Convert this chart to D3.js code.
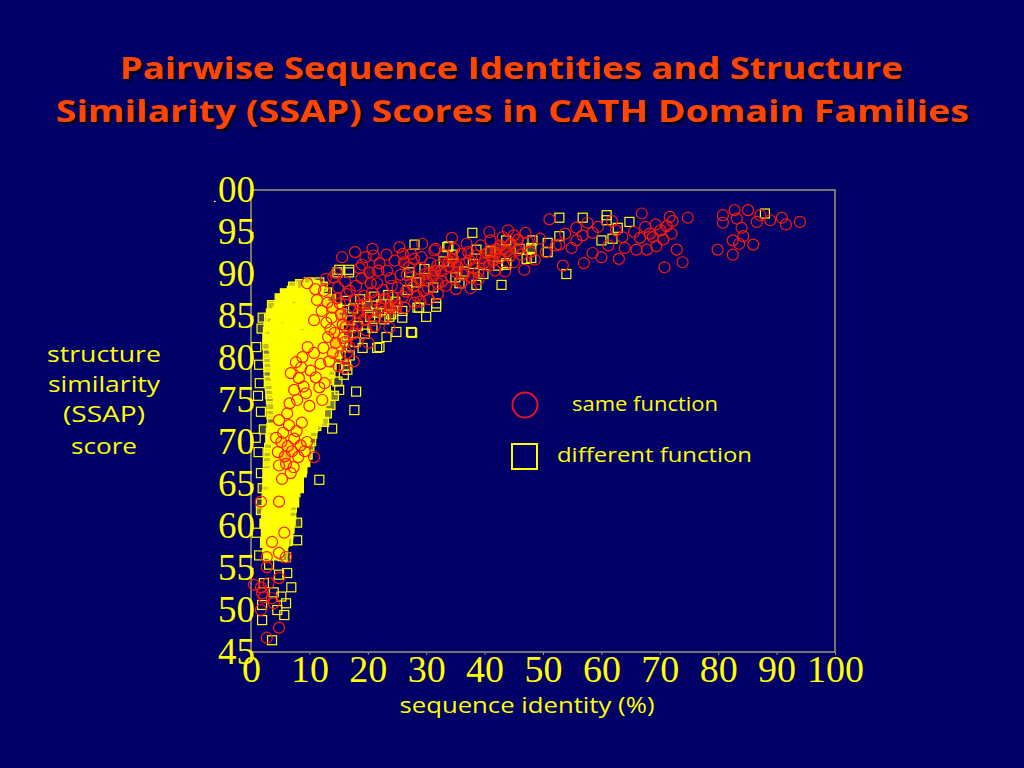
<!DOCTYPE html>
<html>
<head>
<meta charset="utf-8">
<script src="https://cdn.jsdelivr.net/npm/d3@7/dist/d3.min.js"></script>
<style>
  html, body { margin: 0; padding: 0; background: #000066; }
  svg { display: block; }
</style>
</head>
<body>
<svg id="chart" width="1024" height="768"></svg>
<script>
// ---------- DATA ----------
const titleLines = ["Pairwise Sequence Identities and Structure", "Similarity (SSAP) Scores in CATH Domain Families"];
const yLabelLines = ["structure", "similarity", "(SSAP)", "score"];
const xLabel = "sequence identity (%)";
const legendLabels = ["same function", "different function"];
const xTicks = [0, 10, 20, 30, 40, 50, 60, 70, 80, 90, 100];
const yTicks = [45, 50, 55, 60, 65, 70, 75, 80, 85, 90, 95, 100];

// different function (squares): dense core, x = sequence identity %, y = SSAP score
const diffCore = [
  [7.2,88.5],[8.4,88.8],[9.6,88.4],[10.9,88.7],[12.3,88.5],
  [5.8,87.7],[7.0,88.0],[8.1,87.6],[9.3,87.9],[10.4,87.7],[11.6,88.0],[13.0,87.8],
  [4.9,87.1],[6.1,86.9],[7.4,87.2],[8.6,86.9],[9.9,87.1],[11.2,86.8],[12.4,87.1],[13.7,87.0],
  [3.6,86.3],[4.8,86.1],[6.0,86.3],[7.2,86.0],[8.5,86.3],[9.7,86.1],[11.0,86.4],[12.2,86.1],[13.5,86.2],[14.8,86.0],
  [3.4,85.3],[4.5,85.5],[5.7,85.2],[6.9,85.5],[8.1,85.3],[9.4,85.6],[10.6,85.3],[11.8,85.5],[13.1,85.2],[14.3,85.4],[15.6,85.3],
  [3.1,84.7],[4.3,84.5],[5.5,84.8],[6.6,84.5],[7.8,84.7],[9.0,84.4],[10.3,84.6],[11.5,84.8],[12.8,84.5],[14.0,84.7],[15.3,84.5],
  [3.0,83.7],[4.1,83.9],[5.3,83.6],[6.5,83.9],[7.6,83.7],[8.8,84.0],[10.0,83.7],[11.3,83.9],[12.5,83.6],[13.8,83.8],[15.0,83.7],
  [2.9,83.1],[4.0,82.9],[5.2,83.2],[6.3,82.9],[7.5,83.1],[8.7,82.8],[9.9,83.0],[11.1,83.2],[12.4,82.9],[13.6,83.1],[14.9,82.9],
  [2.8,82.3],[3.9,82.1],[5.0,82.3],[6.2,82.0],[7.4,82.2],[8.6,82.4],[9.8,82.1],[11.0,82.3],[12.2,82.0],[13.5,82.2],[14.7,82.4],[15.8,82.1],
  [2.8,81.5],[3.9,81.3],[5.1,81.5],[6.3,81.2],[7.5,81.4],[8.7,81.6],[9.9,81.3],[11.1,81.5],[12.3,81.2],[13.4,81.4],[14.6,81.6],[15.6,81.3],
  [2.9,80.5],[4.0,80.7],[5.2,80.4],[6.4,80.7],[7.6,80.5],[8.8,80.8],[10.0,80.5],[11.2,80.7],[12.4,80.4],[13.6,80.6],[14.8,80.5],
  [2.9,79.9],[4.1,79.7],[5.3,79.9],[6.5,79.6],[7.7,79.8],[8.9,80.0],[10.1,79.7],[11.3,79.9],[12.5,79.6],[13.7,79.8],[14.6,79.9],
  [3.0,78.9],[4.2,79.1],[5.4,78.8],[6.6,79.1],[7.8,78.9],[9.0,79.2],[10.2,78.9],[11.4,79.1],[12.6,78.8],[13.8,79.0],
  [3.0,78.3],[4.1,78.1],[5.3,78.3],[6.5,78.0],[7.7,78.2],[8.9,78.4],[10.1,78.1],[11.3,78.3],[12.5,78.0],[13.6,78.2],
  [3.1,77.3],[4.3,77.5],[5.5,77.2],[6.7,77.5],[7.9,77.3],[9.1,77.6],[10.3,77.3],[11.5,77.5],[12.7,77.2],[13.4,77.4],
  [3.2,76.7],[4.4,76.5],[5.6,76.7],[6.8,76.4],[8.0,76.6],[9.2,76.8],[10.4,76.5],[11.6,76.7],[12.8,76.4],
  [3.3,75.7],[4.5,75.9],[5.7,75.6],[6.9,75.9],[8.1,75.7],[9.3,76.0],[10.5,75.7],[11.7,75.9],[12.9,75.6],
  [3.4,75.1],[4.6,74.9],[5.8,75.2],[7.0,74.9],[8.2,75.1],[9.4,74.8],[10.6,75.0],[11.8,75.2],[12.7,74.9],
  [3.5,74.3],[4.7,74.1],[5.9,74.3],[7.1,74.0],[8.3,74.2],[9.5,74.4],[10.7,74.1],[11.9,74.3],
  [3.5,73.3],[4.7,73.5],[5.9,73.2],[7.1,73.5],[8.3,73.3],[9.5,73.6],[10.7,73.3],[11.8,73.5],
  [3.6,72.7],[4.8,72.5],[6.0,72.7],[7.2,72.4],[8.4,72.6],[9.6,72.8],[10.8,72.5],[11.5,72.7],
  [3.5,71.7],[4.7,71.9],[5.9,71.6],[7.1,71.9],[8.3,71.7],[9.5,72.0],[10.6,71.7],[11.2,71.9],
  [3.4,71.1],[4.6,70.9],[5.8,71.2],[7.0,70.9],[8.2,71.1],[9.4,70.8],[10.5,71.0],
  [3.3,70.3],[4.5,70.1],[5.7,70.3],[6.9,70.0],[8.1,70.2],[9.3,70.4],[10.3,70.1],
  [3.1,69.3],[4.3,69.5],[5.5,69.2],[6.7,69.5],[7.9,69.3],[9.1,69.6],[10.0,69.3],
  [3.0,68.7],[4.2,68.5],[5.4,68.7],[6.6,68.4],[7.8,68.6],[9.0,68.8],[9.7,68.5],
  [2.9,67.7],[4.1,67.9],[5.3,67.6],[6.5,67.9],[7.7,67.7],[8.9,68.0],[9.3,67.6],
  [2.9,67.1],[4.1,66.9],[5.3,67.2],[6.5,66.9],[7.6,67.1],[8.8,66.8],
  [2.8,66.3],[4.0,66.1],[5.2,66.3],[6.4,66.0],[7.5,66.2],[8.5,66.4],
  [2.8,65.3],[4.0,65.5],[5.2,65.2],[6.3,65.5],[7.4,65.3],[8.2,65.6],
  [2.8,64.7],[3.9,64.5],[5.1,64.7],[6.2,64.4],[7.2,64.6],[7.9,64.8],
  [2.7,63.7],[3.9,63.9],[5.0,63.6],[6.1,63.9],[7.1,63.7],[7.6,64.0],
  [2.7,63.1],[3.8,62.9],[4.9,63.2],[6.0,62.9],[7.0,63.1],[7.4,62.8],
  [2.7,62.3],[3.8,62.1],[4.9,62.3],[6.0,62.0],[7.0,62.2],
  [2.6,61.3],[3.7,61.5],[4.8,61.2],[5.9,61.5],[6.9,61.3],
  [2.6,60.7],[3.7,60.5],[4.8,60.7],[5.9,60.4],[6.8,60.6],
  [2.6,59.7],[3.7,59.9],[4.7,59.6],[5.8,59.9],[6.6,59.7],
  [2.7,59.1],[3.7,58.9],[4.7,59.2],[5.7,58.9],[6.4,59.1],
  [2.7,58.3],[3.7,58.1],[4.6,58.3],[5.6,58.0],[6.2,58.2],
  [2.8,57.3],[3.8,57.5],[4.7,57.2],[5.5,57.5],
  [2.9,56.7],[3.9,56.5],[4.8,56.7],[5.4,56.4]
];

// different function (squares): band along the upper curve
const diffBand = [
  [16.2,86.8],[17.5,85.9],[18.7,87.0],[19.9,86.2],[21.1,87.3],[22.3,86.4],[23.5,87.5],[24.7,86.7],[25.9,85.6],
  [20.4,84.9],[21.6,85.4],[22.8,84.6],[24.0,85.2],[17.0,84.5],[18.3,83.8],[19.5,82.9],[20.8,83.6],
  [16.6,82.7],[17.9,81.9],[19.1,81.2],[16.9,80.3],[16.3,79.1],[15.9,78.0],[14.8,77.2],[15.1,76.2],
  [14.2,75.5],[13.6,74.4],[13.0,73.4],[12.5,72.4],[13.9,71.6],
  [22.0,81.3],[23.2,82.5],[23.7,84.9],[25.9,84.8],[24.9,83.1],[27.6,83.0],[28.8,86.0],[30.0,84.9],[31.7,86.1],
  [26.8,88.1],[28.3,89.0],[27.1,90.2],[29.7,90.6],[31.2,88.4],[33.6,93.2],[28.0,93.5],[14.8,90.2],[16.8,90.2],
  [33.0,91.5],[35.0,89.6],[36.5,90.3],[38.0,91.2],[39.8,90.0],[41.0,92.7],[42.3,91.0],[38.6,92.9],
  [35.7,88.9],[38.6,88.7],[42.9,88.7],[43.7,91.3],[37.9,94.9],[33.8,93.3],[34.5,92.3],[46.0,93.0],[47.2,91.8]
];

// different function (squares): scattered outliers
const diffSparse = [
  [0.9,81.3],[1.4,79.2],[1.7,73.6],[1.5,77.0],[1.2,75.5],[0.8,70.5],[1.3,68.8],[1.7,66.3],[1.7,62.7],[1.7,61.9],
  [1.0,59.2],[1.4,56.5],[3.1,55.4],[6.0,56.3],[7.9,58.3],[7.9,60.4],[8.2,64.5],[8.7,66.4],[11.7,65.5],
  [4.8,54.2],[6.2,54.4],[6.9,52.7],[6.0,50.8],[4.5,50.0],[1.9,50.6],[5.7,49.4],[1.9,48.8],[3.6,46.4],
  [2.2,53.2],[3.9,52.1],[5.2,51.6],[3.6,86.1],[6.0,86.3],[8.2,87.3],[9.9,89.0],[11.7,89.0],[15.1,90.5],
  [16.8,90.5],[18.0,76.0],[17.7,73.8],[16.5,78.6],[28.5,86.0],[21.6,81.2],[27.4,83.1],[1.8,83.5],[2.0,84.8],
  [2.2,71.5],[2.0,64.5],[2.3,60.3],[2.4,58.0],
  [52.8,96.7],[56.8,96.7],[60.9,97.0],[60.9,96.4],[64.8,96.2],[62.8,95.5],[60.0,94.0],[61.9,94.2],
  [52.8,94.5],[48.2,94.0],[48.0,93.1],[48.0,91.9],[50.8,93.7],[50.8,92.6],[43.7,94.0],[43.7,91.1],
  [54.0,90.0],[88.0,97.2],[31.7,86.5]
];

// same function (circles)
const sameCore = [
  [4.8,72.6],[6.5,72.0],[8.7,72.3],[5.2,70.0],[6.3,69.5],[7.4,70.4],[8.5,69.6],[4.6,68.8],[5.8,68.3],
  [7.0,68.9],[8.1,68.2],[9.2,68.9],[6.0,67.4],[7.3,67.0],[4.8,67.2],[10.8,68.2],[5.5,71.1],[7.8,71.3],
  [4.3,70.5],[9.6,70.0],[6.8,66.3],[5.3,65.6],
  [4.8,62.9],[1.7,62.9],[5.7,59.2],[3.6,58.1],[2.7,56.3],[2.7,55.1],[4.8,56.8],[6.0,56.3],[4.8,53.8],
  [1.7,52.7],[0.5,53.0],[1.9,52.0],[3.6,51.4],[3.9,50.8],[4.8,47.9],[2.7,46.7],[1.7,50.0],[3.0,53.2],[2.2,51.5],
  [7.7,79.5],[10.8,80.6],[8.2,77.6],[11.1,77.7],[9.4,75.8],[11.7,76.5],[6.6,74.6],[7.9,75.0],[9.0,76.6],
  [10.2,78.5],[8.6,78.9],[10.0,74.3],[7.4,76.2],[12.6,77.0],[6.8,78.2],[11.9,79.3],[9.7,81.3],[8.8,80.1],
  [6.2,73.4],[12.2,75.0]
];

const sameBand = [
  [10.8,84.5],[12.9,84.2],[9.6,88.9],[14.6,90.1],[13.2,82.5],[14.5,81.8],[15.8,82.4],[16.9,81.3],[14.0,80.6],
  [15.3,80.2],[17.5,82.9],[13.6,83.4],[16.2,83.7],[18.3,84.1],[12.1,85.6],[13.9,86.0],[15.4,85.2],[17.1,85.6],
  [18.8,86.3],[11.3,86.9],[14.7,87.1],[16.4,87.6],[20.0,85.3],[19.3,87.4],[21.4,86.9],[22.6,88.1],[20.5,88.9],
  [18.0,88.6],[16.1,89.1],[23.2,92.3],[19.0,91.1],[25.4,93.2],[21.8,90.4],[23.9,89.5],[25.1,88.4],[26.7,89.9],
  [24.3,87.2],[22.1,86.0],[27.8,88.5],[28.9,90.6],[26.2,91.4],[30.1,89.2],[31.5,90.4],[29.6,88.0],[32.7,89.1],
  [33.9,90.9],[35.2,90.2],[34.6,91.8],[36.8,91.2],[38.1,90.7],[37.2,92.6],[39.5,91.9],[40.8,91.0],[41.9,92.5],
  [42.7,93.4],[40.8,95.0],[44.3,92.1],[45.6,92.8],[46.8,90.5],[47.4,93.8],[45.0,94.6],[43.5,90.3],[39.0,89.4],
  [36.0,89.0],[32.0,87.6],[30.5,87.0],[28.0,86.6],[26.0,87.3],[19.7,83.3],[21.0,84.5],[23.0,84.9],[24.8,85.9],
  [17.6,79.6],[16.0,78.8],[12.5,88.0],[11.0,88.2],[15.6,92.0],[17.8,92.6],[20.8,93.0],[29.3,93.6],[31.4,92.8],
  [27.4,92.4],[34.4,94.3],
  [12.4,81.2],[13.1,86.6],[13.8,84.8],[14.3,83.0],[14.9,88.4],[15.2,86.5],[15.7,84.0],[16.1,81.9],[16.6,85.0],
  [16.9,88.0],[17.3,83.6],[17.7,86.9],[18.1,81.9],[18.4,85.4],[12.8,89.4],[14.1,89.6],[13.4,79.6],[15.0,79.0],[16.4,80.6],
  [18.9,89.5],[19.4,84.6],[19.8,86.6],[20.3,90.2],[20.7,87.8],[21.2,83.8],[21.6,88.9],[22.0,91.3],[22.4,85.5],
  [22.9,87.1],[23.3,90.4],[23.7,83.6],[24.1,88.6],[24.6,91.6],[25.0,86.3],[19.6,92.0],[21.0,92.2],[18.6,90.7],
  [23.8,86.0],[20.1,81.8],
  [25.6,89.9],[26.0,92.4],[26.5,87.9],[27.0,90.8],[27.4,88.9],[27.9,91.8],[28.4,87.4],[28.8,89.4],[29.2,92.0],
  [29.8,90.0],[30.3,88.3],[30.7,91.3],[31.1,89.8],[31.6,93.0],[32.0,88.9],[26.3,86.0],[29.0,86.7],[31.9,91.0],
  [32.5,90.4],[33.0,92.3],[33.4,88.6],[33.9,91.5],[34.3,89.6],[34.8,93.0],[35.4,90.9],[35.9,92.4],[36.3,89.9],
  [36.9,93.6],[37.4,91.6],[37.8,89.6],[38.4,92.2],[38.9,90.2],[39.3,93.4],[39.9,91.3],[35.1,88.2],[37.6,88.3],
  [40.4,92.5],[41.0,94.0],[41.5,91.6],[42.1,93.0],[42.6,91.9],[43.1,94.4],[43.8,92.7],[44.5,93.6],[45.0,91.4],
  [45.7,94.1],[46.3,92.3],[47.0,94.9],[47.8,92.6],[44.0,95.2],[41.8,90.4],
  [51.1,96.5],[49.5,94.2],[50.5,92.6],[52.2,93.4],[53.8,94.8],[52.8,93.5],[55.7,95.5],[55.7,94.0],[54.9,93.1],
  [56.8,94.6],[57.6,96.1],[58.5,94.9],[58.5,92.5],[60.0,92.0],[59.4,95.6],[61.2,93.4],[62.5,95.2],[63.6,94.4],
  [64.0,93.1],[66.0,92.9],[67.8,92.9],[66.9,97.2],[65.6,95.0],[66.6,94.3],[67.5,95.6],[68.3,94.8],[68.8,94.4],
  [69.3,95.9],[70.1,95.2],[70.6,94.1],[71.2,95.7],[72.0,94.8],[72.2,96.3],[71.7,96.8],[74.8,96.7],[72.9,92.9],
  [73.9,91.4],[70.8,90.8],[69.4,93.3],[61.8,96.3],[63.0,91.8],[57.0,91.3],[48.6,91.7],[53.4,91.0]
];

const sameRight = [
  [80.8,97.0],[80.8,96.1],[82.8,97.6],[85.1,97.6],[86.6,96.2],[88.9,96.4],[90.9,96.7],[94.0,96.2],[86.0,93.5],
  [82.5,94.0],[82.5,92.3],[79.9,92.9],[83.6,93.6],[84.3,94.5],[87.2,97.0],[91.6,95.9],[84.0,95.5],[83.2,96.6]
];

// ---------- DRAW ----------
const svg = d3.select("#chart");
const W = 1024, H = 768;
const bg = "#000066";
const frameColor = "#9c9a72";
const yellow = "#ffff00";
const red = "#ff1a0a";
const comic = "'Comic Sans MS','Open Sans','Noto Sans',sans-serif";

svg.append("rect").attr("width", W).attr("height", H).attr("fill", bg);

const defs = svg.append("defs");
const shadow = defs.append("filter").attr("id", "tshadow")
  .attr("x", "-5%").attr("y", "-20%").attr("width", "110%").attr("height", "150%");
shadow.append("feDropShadow").attr("dx", 2.5).attr("dy", 2.5).attr("stdDeviation", 0.6)
  .attr("flood-color", "#00001a").attr("flood-opacity", 1);

const x = d3.scaleLinear().domain([0, 100]).range([251, 835]);
const y = d3.scaleLinear().domain([45, 100]).range([652, 190]);

// Title
const titleY = [79, 122];
const titleLen = [783, 913];
const titleCx = [511.5, 512.5];
titleLines.forEach((t, i) => {
  svg.append("text")
    .attr("x", titleCx[i]).attr("y", titleY[i])
    .attr("text-anchor", "middle")
    .attr("font-family", comic).attr("font-weight", "bold").attr("font-size", 31)
    .attr("textLength", titleLen[i]).attr("lengthAdjust", "spacingAndGlyphs")
    .attr("filter", "url(#tshadow)")
    .attr("fill", "#ff4400").text(t);
});

// Frame
svg.append("rect")
  .attr("x", x(0)).attr("y", y(100))
  .attr("width", x(100) - x(0)).attr("height", y(45) - y(100))
  .attr("fill", "none").attr("stroke", frameColor).attr("stroke-width", 1.5);

// Axes
const xAxis = svg.append("g").attr("transform", `translate(0,${y(45)})`)
  .call(d3.axisBottom(x).tickValues(xTicks).tickSize(3).tickPadding(0).tickFormat(d3.format("d")));
xAxis.select(".domain").remove();
xAxis.selectAll("line").attr("stroke", frameColor);
xAxis.selectAll("text")
  .attr("y", 30).attr("dy", "0")
  .attr("fill", yellow).attr("font-family", "'Liberation Serif','Times New Roman',serif")
  .attr("font-size", 38);

// clip (in the axis group's own coordinates): the leading "1" of 100 is cut off in the original
defs.append("clipPath").attr("id", "ylabclip")
  .append("rect").attr("x", 214 - x(0)).attr("y", 0).attr("width", 260).attr("height", H);

const yAxis = svg.append("g").attr("transform", `translate(${x(0)},0)`)
  .attr("clip-path", "url(#ylabclip)")
  .call(d3.axisLeft(y).tickValues(yTicks).tickSize(-3).tickPadding(-4).tickFormat(d3.format("d")));
yAxis.select(".domain").remove();
yAxis.selectAll("line").attr("stroke", frameColor);
yAxis.selectAll("text")
  .attr("dy", "0.30em")
  .attr("fill", yellow).attr("font-family", "'Liberation Serif','Times New Roman',serif")
  .attr("font-size", 37);

// Axis titles
svg.append("text").attr("x", 527).attr("y", 713).attr("text-anchor", "middle")
  .attr("font-family", comic).attr("font-size", 21).attr("fill", yellow)
  .attr("textLength", 255).attr("lengthAdjust", "spacingAndGlyphs").text(xLabel);

const yLabY = [362, 392, 422, 454];
const yLabLen = [114, 112, 82, 66];
yLabelLines.forEach((t, i) => {
  svg.append("text").attr("x", 104).attr("y", yLabY[i]).attr("text-anchor", "middle")
    .attr("font-family", comic).attr("font-size", 21).attr("fill", yellow)
    .attr("textLength", yLabLen[i]).attr("lengthAdjust", "spacingAndGlyphs").text(t);
});

// density helper: count neighbours in pixel space
function withDensity(pts, radius) {
  const px = pts.map(p => [x(p[0]), y(p[1])]);
  return px.map((a, i) => {
    let n = 0;
    for (let j = 0; j < px.length; j++) {
      if (j === i) continue;
      const dx = px[j][0] - a[0], dy = px[j][1] - a[1];
      if (dx * dx + dy * dy <= radius * radius) n++;
    }
    return { cx: a[0], cy: a[1], n };
  });
}

const squares = withDensity(diffCore.concat(diffBand, diffSparse), 12);
const circles = withDensity(sameCore.concat(sameBand, sameRight), 11);

const S = 9;
svg.append("g").selectAll("rect").data(squares).join("rect")
  .attr("x", d => d.cx - S / 2).attr("y", d => d.cy - S / 2)
  .attr("width", S).attr("height", S)
  .attr("fill", yellow)
  .attr("fill-opacity", d => Math.max(0, Math.min(1, (d.n - 3) / 4)))
  .attr("stroke", yellow).attr("stroke-width", 1.2);

svg.append("g").selectAll("circle").data(circles).join("circle")
  .attr("cx", d => d.cx).attr("cy", d => d.cy).attr("r", 5.5)
  .attr("fill", "#ff3000")
  .attr("fill-opacity", d => Math.max(0, Math.min(0.6, (d.n - 3) / 7)))
  .attr("stroke", red).attr("stroke-width", 1.2);

// Legend
svg.append("circle").attr("cx", 525).attr("cy", 405).attr("r", 12.5)
  .attr("fill", "none").attr("stroke", "#e8102a").attr("stroke-width", 2);
svg.append("rect").attr("x", 512).attr("y", 444).attr("width", 25).attr("height", 25)
  .attr("fill", "none").attr("stroke", yellow).attr("stroke-width", 2);
svg.append("text").attr("x", 572).attr("y", 411)
  .attr("font-family", comic).attr("font-size", 20).attr("fill", yellow)
  .attr("textLength", 146).attr("lengthAdjust", "spacingAndGlyphs").text(legendLabels[0]);
svg.append("text").attr("x", 557).attr("y", 462)
  .attr("font-family", comic).attr("font-size", 20).attr("fill", yellow)
  .attr("textLength", 195).attr("lengthAdjust", "spacingAndGlyphs").text(legendLabels[1]);
</script>
</body>
</html>
